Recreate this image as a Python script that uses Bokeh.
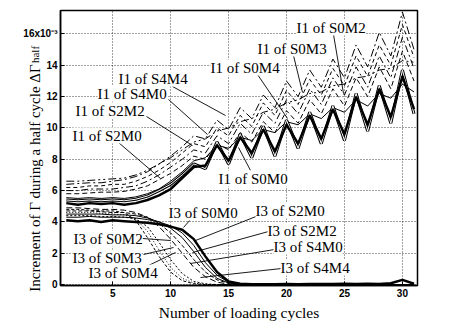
from bokeh.plotting import figure
from bokeh.models import Label, Range1d, FixedTicker, LinearAxis
from bokeh.embed import file_html
from bokeh.resources import INLINE

# ---------------- data ----------------
cycles = list(range(1, 32))
x_ticks = [5, 10, 15, 20, 25, 30]
y_ticks = [0, 2, 4, 6, 8, 10, 12, 14, 16]
y_tick_overrides = {16: "16x10\u207b\u00b3"}
x_title = "Number of loading cycles"
y_title = "Increment of \u0393 during a half cycle \u0394\u0393"
y_title_sub = "half"

# I1 curves (x 1e-3)
i1_S0M0 = [5.2, 5.1, 5.2, 5.15, 5.2, 5.1, 5.2, 5.4, 5.7, 6.1, 6.8, 7.5, 7.6, 8.9, 7.9, 9.4,
           8.4, 9.9, 8.5, 10.2, 9.0, 10.8, 9.3, 11.2, 9.6, 12.0, 10.2, 12.5, 10.7, 13.3, 11.2]
i1_S2M0 = [5.4, 5.35, 5.4, 5.35, 5.4, 5.35, 5.45, 5.65, 6.0, 6.4, 7.0, 7.7, 7.4, 9.1, 7.7, 9.6,
           8.1, 10.1, 8.2, 10.5, 8.7, 11.0, 9.0, 11.4, 9.2, 12.2, 9.8, 12.7, 10.3, 13.7, 10.9]
i1_S2M2 = [5.55, 5.5, 5.55, 5.5, 5.55, 5.5, 5.6, 5.8, 6.1, 6.6, 7.2, 7.9, 8.1, 8.9, 8.7, 9.4,
           9.2, 9.9, 9.7, 10.4, 10.2, 10.9, 10.6, 11.3, 11.0, 11.8, 11.4, 12.2, 11.9, 12.8, 12.3]
i1_S4M0 = [5.8, 5.8, 5.85, 5.9, 5.9, 5.95, 6.1, 6.3, 6.7, 7.1, 7.6, 8.2, 8.0, 9.0, 8.6, 9.7,
           9.1, 10.4, 9.7, 11.1, 10.3, 11.8, 10.9, 12.5, 11.4, 13.2, 12.0, 13.9, 12.5, 14.9, 13.0]
i1_S0M4 = [6.0, 6.0, 6.1, 6.1, 6.1, 6.2, 6.3, 6.6, 7.0, 7.5, 8.0, 8.6, 8.4, 9.5, 9.0, 10.3,
           9.6, 11.0, 10.3, 11.8, 10.9, 12.5, 11.5, 13.2, 12.1, 13.9, 12.6, 14.6, 13.2, 15.8, 13.8]
i1_S0M3 = [6.2, 6.2, 6.3, 6.3, 6.4, 6.4, 6.6, 6.9, 7.3, 7.8, 8.4, 9.0, 8.8, 10.0, 9.5, 10.8,
           10.1, 11.6, 10.8, 12.4, 11.5, 13.1, 12.1, 13.8, 12.7, 14.6, 13.3, 15.3, 14.0, 16.6, 14.5]
i1_S0M2 = [6.4, 6.45, 6.5, 6.5, 6.6, 6.7, 6.9, 7.2, 7.7, 8.2, 8.8, 9.5, 9.3, 10.5, 9.9, 11.3,
           10.6, 12.1, 11.3, 13.0, 12.0, 13.7, 12.6, 14.4, 13.2, 15.3, 13.9, 16.1, 14.6, 17.4, 15.0]
i1_S4M4 = [6.6, 6.6, 6.65, 6.7, 6.75, 6.8, 7.0, 7.3, 7.7, 8.1, 8.6, 9.1, 9.3, 9.8, 10.0, 10.4,
           10.6, 11.0, 11.2, 11.6, 11.8, 12.2, 12.3, 12.7, 12.8, 13.2, 13.3, 13.7, 13.8, 14.3, 14.2]

# I3 curves (x 1e-3)
i3_S0M0 = [4.1, 4.05, 4.1, 4.0, 4.1, 4.05, 4.0, 3.95, 3.85, 3.7, 3.5, 2.9, 1.8, 0.8, 0.2, 0.05,
           0.02, 0.02, 0.02, 0.03, 0.02, 0.03, 0.04, 0.03, 0.05, 0.04, 0.05, 0.04, 0.08, 0.3, 0.05]
i3_S2M0 = [4.3, 4.3, 4.35, 4.3, 4.3, 4.3, 4.25, 4.15, 4.0, 3.75, 3.3, 2.5, 1.4, 0.6, 0.15, 0.03,
           0, 0, 0, 0, 0, 0, 0, 0, 0, 0, 0, 0, 0, 0, 0]
i3_S2M2 = [4.5, 4.5, 4.5, 4.5, 4.45, 4.45, 4.4, 4.25, 4.0, 3.6, 3.0, 2.1, 1.1, 0.4, 0.1, 0,
           0, 0, 0, 0, 0, 0, 0, 0, 0, 0, 0, 0, 0, 0, 0]
i3_S4M0 = [4.7, 4.7, 4.7, 4.65, 4.6, 4.6, 4.5, 4.3, 3.9, 3.3, 2.5, 1.6, 0.8, 0.3, 0.08, 0,
           0, 0, 0, 0, 0, 0, 0, 0, 0, 0, 0, 0, 0, 0, 0]
i3_S4M4 = [4.9, 4.9, 4.85, 4.8, 4.8, 4.75, 4.6, 4.3, 3.7, 2.9, 2.0, 1.1, 0.5, 0.15, 0.03, 0,
           0, 0, 0, 0, 0, 0, 0, 0, 0, 0, 0, 0, 0, 0, 0]
i3_S0M2 = [4.4, 4.4, 4.4, 4.35, 4.35, 4.3, 4.2, 3.7, 2.7, 1.6, 0.7, 0.2, 0.05, 0, 0, 0,
           0, 0, 0, 0, 0, 0, 0, 0, 0, 0, 0, 0, 0, 0, 0]
i3_S0M3 = [4.6, 4.6, 4.6, 4.55, 4.5, 4.45, 4.2, 3.4, 2.2, 1.1, 0.4, 0.1, 0, 0, 0, 0,
           0, 0, 0, 0, 0, 0, 0, 0, 0, 0, 0, 0, 0, 0, 0]
i3_S0M4 = [4.8, 4.8, 4.75, 4.7, 4.7, 4.6, 4.1, 3.0, 1.8, 0.8, 0.25, 0.05, 0, 0, 0, 0,
           0, 0, 0, 0, 0, 0, 0, 0, 0, 0, 0, 0, 0, 0, 0]

# ---------------- layout ----------------
W, H = 450, 332
FL, FT, FW, FH = 60, 10, 357, 275
X0, X1 = 0.5, 31.3
Y0, Y1 = -0.06, 17.5
NBSP = "\u00a0"


def px2x(px):
    return X0 + (px - FL) / FW * (X1 - X0)


def px2y(py):
    return Y1 - (py - FT) / FH * (Y1 - Y0)


p = figure(width=W, height=H, frame_width=FW, frame_height=FH,
           x_range=Range1d(X0, X1), y_range=Range1d(Y0, Y1),
           min_border_left=FL, min_border_top=FT,
           min_border_right=W - FL - FW, min_border_bottom=H - FT - FH,
           output_backend="svg", toolbar_location=None)
p.background_fill_color = "white"
p.border_fill_color = "white"
p.outline_line_color = "black"
p.outline_line_width = 1.5

for ax, ticks in ((p.xaxis, x_ticks), (p.yaxis, y_ticks)):
    ax.ticker = FixedTicker(ticks=ticks)
    ax.axis_line_color = "black"
    ax.axis_line_width = 1.5
    ax.major_tick_in = 4
    ax.major_tick_out = 0
    ax.minor_tick_line_color = None
    ax.major_label_text_font = "Liberation Sans"
    ax.major_label_text_font_size = "10px"
    ax.major_label_text_font_style = "bold"
    ax.major_label_text_color = "black"
    ax.major_label_standoff = 3
    ax.axis_label_text_font = "Liberation Serif"
    ax.axis_label_text_font_style = "normal"
    ax.axis_label_text_color = "black"
p.yaxis.major_label_overrides = y_tick_overrides

# x title
p.xaxis.axis_label = x_title
p.xaxis.axis_label_text_font_size = "15.5px"
p.xaxis.axis_label_standoff = 4

# y title: padded with no-break spaces so that it sits as in the original
p.yaxis.axis_label = y_title + NBSP * 16
p.yaxis.axis_label_text_font_size = "15px"
p.yaxis.axis_label_standoff = -23

# subscript of the y title on a bare second axis
sub_axis = LinearAxis(ticker=FixedTicker(ticks=[]), axis_line_color=None,
                      major_tick_line_color=None, minor_tick_line_color=None,
                      major_label_text_font_size="0px",
                      axis_label=NBSP * 68 + y_title_sub,
                      axis_label_text_font="Liberation Serif",
                      axis_label_text_font_style="normal",
                      axis_label_text_font_size="11px",
                      axis_label_text_color="black",
                      axis_label_standoff=-16)
p.add_layout(sub_axis, "left")

p.xgrid.ticker = FixedTicker(ticks=x_ticks)
p.ygrid.ticker = FixedTicker(ticks=y_ticks)
for g in (p.xgrid, p.ygrid):
    g.grid_line_color = "black"
    g.grid_line_alpha = 0.75
    g.grid_line_dash = "1 2"
    g.grid_line_width = 1

# I3 curves
p.line(cycles, i3_S2M0, line_color="black", line_width=1)
p.line(cycles, i3_S2M2, line_color="black", line_width=1)
p.line(cycles, i3_S4M0, line_color="black", line_width=1, line_dash="4 2")
p.line(cycles, i3_S4M4, line_color="black", line_width=1, line_dash="6 3")
p.line(cycles, i3_S0M2, line_color="black", line_width=1, line_dash="2 2")
p.line(cycles, i3_S0M3, line_color="black", line_width=1, line_dash="1 2")
p.line(cycles, i3_S0M4, line_color="black", line_width=1, line_dash="3 2")
p.line(cycles, i3_S0M0, line_color="black", line_width=2.5)

# I1 curves
p.line(cycles, i1_S4M4, line_color="black", line_width=1, line_dash="8 3 2 3 2 3")
p.line(cycles, i1_S0M2, line_color="black", line_width=1, line_dash="8 3 2 3")
p.line(cycles, i1_S0M3, line_color="black", line_width=1, line_dash="4 3")
p.line(cycles, i1_S0M4, line_color="black", line_width=1, line_dash="7 3 2 3")
p.line(cycles, i1_S4M0, line_color="black", line_width=1, line_dash="5 3")
p.line(cycles, i1_S2M2, line_color="black", line_width=1)
p.line(cycles, i1_S2M0, line_color="black", line_width=3)
p.line(cycles, i1_S2M0, line_color="white", line_width=1)
p.line(cycles, i1_S0M0, line_color="black", line_width=2.5)

# annotation labels (pixel positions: left x, middle y) and leader lines
ann_texts = ["I1 of S0M2", "I1 of S0M3", "I1 of S0M4", "I1 of S4M4", "I1 of S4M0",
             "I1 of S2M2", "I1 of S2M0", "I1 of S0M0",
             "I3 of S0M0", "I3 of S2M0", "I3 of S2M2", "I3 of S4M0", "I3 of S4M4",
             "I3 of S0M2", "I3 of S0M3", "I3 of S0M4"]
ann_px = [(296, 27), (257, 48), (210, 67), (118, 78), (97, 93),
          (75, 110), (72, 135), (218, 178),
          (168, 212), (255, 210), (267, 230), (273, 246), (280, 267),
          (73, 238), (72, 257), (88, 272)]
leaders_px = [((333, 34), (343, 93)), ((293, 55), (302, 92)), ((257, 74), (287, 118)),
              ((172, 86), (225, 115)), ((168, 99), (207, 134)), ((146, 116), (192, 145)),
              ((118, 142), (160, 178)), ((250, 170), (238, 147)),
              ((190, 219), (183, 227)), ((258, 215), (195, 240)), ((268, 231), (192, 252)),
              ((274, 249), (190, 263)), ((281, 268), (200, 277)),
              ((142, 238), (170, 240)), ((143, 254), (173, 247)), ((148, 265), (175, 252))]

p.segment(x0=[px2x(a[0]) for a, b in leaders_px], y0=[px2y(a[1]) for a, b in leaders_px],
          x1=[px2x(b[0]) for a, b in leaders_px], y1=[px2y(b[1]) for a, b in leaders_px],
          line_color="black", line_width=0.9)

for t, (lx, ly) in zip(ann_texts, ann_px):
    p.add_layout(Label(x=px2x(lx), y=px2y(ly), text=t, text_align="left",
                       text_baseline="middle", text_font="Liberation Serif",
                       text_font_size="15px", text_color="black",
                       background_fill_color="white", background_fill_alpha=1.0))

open("out.html", "w").write(file_html(p, INLINE))
